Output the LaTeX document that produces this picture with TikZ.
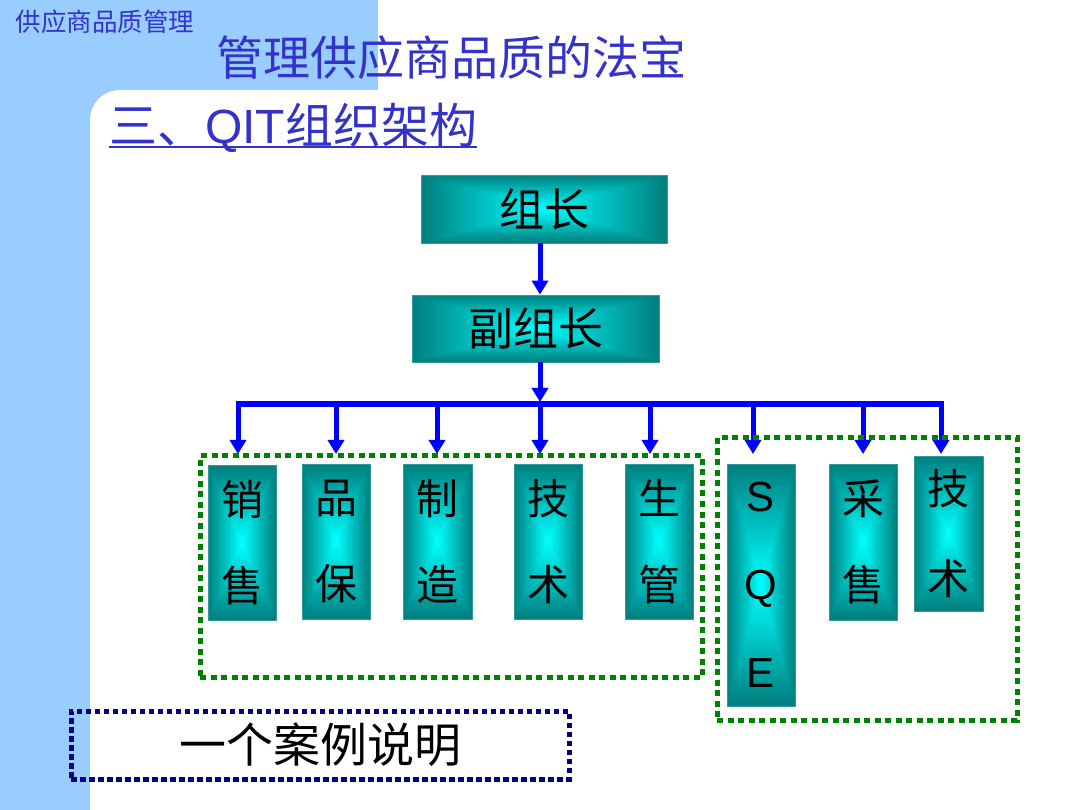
\documentclass[tikz,border=0pt]{standalone}
\usepackage{fontspec}
\usetikzlibrary{arrows.meta,calc}
\newfontfamily\cjk{Noto Sans CJK SC}
\newfontfamily\arialf{Liberation Sans}
\definecolor{bgblue}{RGB}{153,204,255}
\definecolor{ttl}{RGB}{51,51,204}
\definecolor{tealdark}{RGB}{0,128,128}
\definecolor{brightcyan}{RGB}{0,255,255}
\definecolor{tealedge}{RGB}{46,156,156}
\definecolor{dgreen}{RGB}{0,128,0}
\definecolor{dnavy}{RGB}{0,0,128}
\tikzset{
  tbox/.style={rectangle, draw=tealedge, line width=0.8pt, inner sep=0pt, text=black,
    font=\cjk\fontsize{45}{50}\selectfont,
    path picture={
      \foreach \i in {0,...,27}{
        \pgfmathsetmacro\f{1-\i/28}
        \pgfmathtruncatemacro\p{\i*100/27}
        \fill[brightcyan!\p!tealdark]
          ($(path picture bounding box.center)!\f!(path picture bounding box.south west)$) rectangle
          ($(path picture bounding box.center)!\f!(path picture bounding box.north east)$);
      }
    }},
  vbox/.style={tbox, minimum width=68pt, minimum height=155pt, align=center, font=\cjk\fontsize{42}{86}\selectfont},
  arr/.style={draw=blue, line width=5pt, -{Triangle[width=16pt,length=14pt]}},
  busline/.style={draw=blue, line width=6pt},
  gdots/.style={draw=dgreen, line width=5pt, dash pattern=on 6pt off 4.5pt, inner sep=0pt},
  ndots/.style={draw=dnavy, line width=5pt, dash pattern=on 5.5pt off 3.5pt, inner sep=0pt},
  ttltext/.style={text=ttl, inner sep=0pt},
  uline/.style={draw=ttl, line width=2.5pt},
}
\begin{document}
\begin{tikzpicture}[x=1pt,y=-1pt]
\useasboundingbox (0,0) rectangle (1080,810);
\fill[white] (0,0) rectangle (1080,810);
% background
\fill[bgblue] (0,0) rectangle (378,130);
\fill[bgblue] (0,0) rectangle (90,810);
\fill[white, rounded corners=30pt] (90,90) rectangle (560,260);
% titles
\node[ttltext, font=\cjk\fontsize{25.5}{30}\selectfont] (hdr) at (105,22) {供应商品质管理};
\node[ttltext, font=\cjk\fontsize{47}{52}\selectfont] (title) at (451,58) {管理供应商品质的法宝};
\node[ttltext, anchor=west, font=\cjk\fontsize{48}{52}\selectfont] (h2) at (109,128) {三、{\arialf QIT}组织架构};
\draw[uline] ([yshift=-3.5pt]h2.base west) -- ([yshift=-3.5pt]h2.base east);
% top boxes
\node[tbox, minimum width=246pt, minimum height=68pt] (zz) at (544,209) {组长};
\node[tbox, minimum width=247pt, minimum height=67pt] (fzz) at (535.5,328.5) {副组长};
\draw[arr] ([xshift=-4pt]zz.south) -- ([xshift=-4pt]zz.south |- fzz.north);
\coordinate (hub) at (540,402);
\draw[arr] (fzz.south -| hub) -- (hub);
% bus
\foreach \n/\x in {1/238,2/336,3/437,4/540,5/650,6/753,7/863,8/941}{
  \coordinate (d\n) at (\x,401);
  \coordinate (e\n) at (\x,454);
  \draw[arr] (d\n) -- (e\n);
}
\coordinate (bl) at (235.5,404);
\coordinate (br) at (943.5,404);
\draw[busline] (bl) -- (br);
% dotted groups
\node[gdots, minimum width=502pt, minimum height=221pt] (gl) at (451,566.5) {};
\node[gdots, minimum width=300pt, minimum height=282pt] (gr) at (867,579) {};
% department boxes
\node[vbox] (xs) at (242,543) {销\\售};
\node[vbox] (pb) at (336,541.5) {品\\保};
\node[vbox, minimum width=69pt] (zzao) at (437.5,541.5) {制\\造};
\node[vbox] (js) at (548,541.5) {技\\术};
\node[vbox] (sg) at (659,541.5) {生\\管};
\node[vbox, minimum height=242pt, font=\arialf\fontsize{42}{88}\selectfont] (sqe) at (761,585) {S\\Q\\E};
\node[vbox, minimum height=156pt] (cs) at (863,542) {采\\售};
\node[vbox, minimum width=69pt, font=\cjk\fontsize{42}{90}\selectfont] (js2) at (948.5,533.5) {技\\术};
% case box
\node[ndots, minimum width=498pt, minimum height=68pt, font=\cjk\fontsize{47}{52}\selectfont] (case) at (320,745) {一个案例说明};
\end{tikzpicture}
\end{document}
